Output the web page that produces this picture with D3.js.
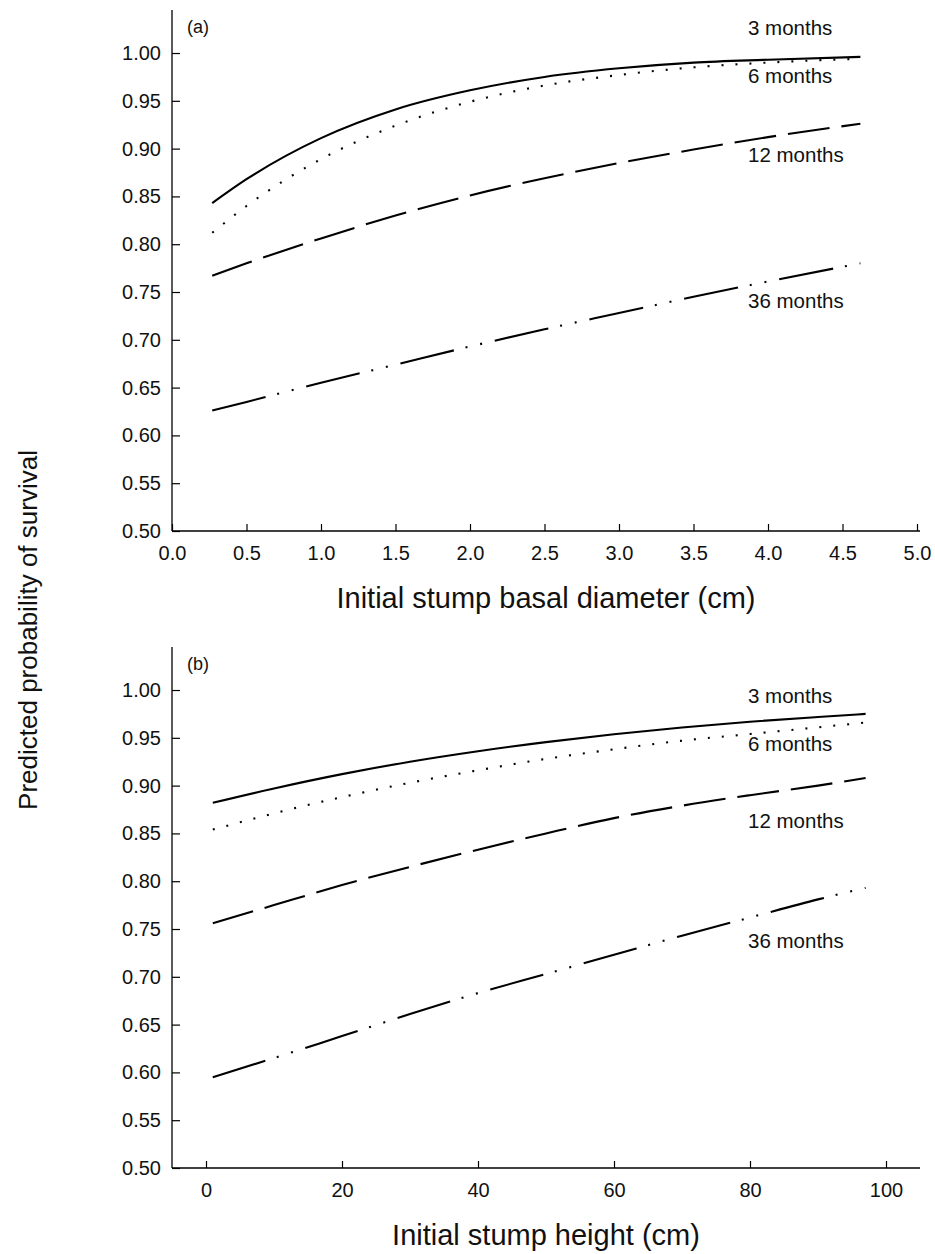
<!DOCTYPE html>
<html>
<head>
<meta charset="utf-8">
<script src="https://cdn.jsdelivr.net/npm/d3@7"></script>
<style>
  body { margin: 0; background: #fff; }
  svg { font-family: "Liberation Sans", Arial, sans-serif; }
</style>
</head>
<body>
<div id="chart"></div>
<script>
// panel (a): basal diameter
var diamX   = [0.27, 0.5, 1.0, 1.5, 2.0, 2.5, 3.0, 3.5, 4.0, 4.62];
var diam3   = [0.843, 0.868, 0.911, 0.941, 0.961, 0.975, 0.984, 0.990, 0.993, 0.996];
var diam6   = [0.812, 0.840, 0.889, 0.924, 0.949, 0.966, 0.977, 0.985, 0.990, 0.994];
var diam12  = [0.767, 0.780, 0.806, 0.830, 0.851, 0.869, 0.885, 0.899, 0.912, 0.926];
var diam36  = [0.626, 0.635, 0.655, 0.674, 0.693, 0.711, 0.728, 0.745, 0.761, 0.780];

// panel (b): stump height
var heightX  = [1, 10, 20, 30, 40, 50, 60, 70, 80, 90, 97];
var height3  = [0.882, 0.897, 0.912, 0.925, 0.936, 0.9455, 0.9537, 0.9608, 0.9668, 0.9718, 0.975];
var height6  = [0.854, 0.871, 0.888, 0.903, 0.916, 0.928, 0.938, 0.947, 0.954, 0.961, 0.966];
var height12 = [0.756, 0.775, 0.796, 0.815, 0.833, 0.850, 0.866, 0.879, 0.890, 0.900, 0.908];
var height36 = [0.595, 0.615, 0.638, 0.661, 0.683, 0.703, 0.723, 0.743, 0.762, 0.781, 0.793];

var seriesNames = ['3 months', '6 months', '12 months', '36 months'];
var yTicks = [0.50, 0.55, 0.60, 0.65, 0.70, 0.75, 0.80, 0.85, 0.90, 0.95, 1.00];
var xTicksA = [0, 0.5, 1, 1.5, 2, 2.5, 3, 3.5, 4, 4.5, 5];
var xTicksB = [0, 20, 40, 60, 80, 100];

var chart_width = 935;
var chart_height = 1254;
var left = 172, right = 920;

var dashes = [null, '2,12', '42,12', '55,12,2,13,2,13'];

var svg = d3.select('#chart')
    .append('svg')
    .attr('width', chart_width)
    .attr('height', chart_height);

function panel(opts) {
    var g = svg.append('g');

    var x_scale = d3.scaleLinear().domain(opts.xDomain).range(opts.xRange);
    var y_scale = d3.scaleLinear().domain([0.5, 1.045]).range([opts.bottom, opts.top]);

    // y axis
    var yAxis = g.append('g')
        .attr('transform', 'translate(' + left + ',0)')
        .call(d3.axisLeft(y_scale).tickValues(yTicks).tickFormat(d3.format('.2f'))
            .tickSizeInner(-8).tickSizeOuter(0).tickPadding(11));
    // x axis
    var xAxis = g.append('g')
        .attr('transform', 'translate(0,' + opts.bottom + ')')
        .call(d3.axisBottom(x_scale).tickValues(opts.xTicks).tickFormat(opts.xFormat)
            .tickSizeInner(-7).tickSizeOuter(0).tickPadding(15));

    [yAxis, xAxis].forEach(function (a) {
        a.select('.domain').remove();
        a.selectAll('line').attr('stroke', '#000').attr('stroke-width', 1.2);
        a.selectAll('text').attr('font-size', 20).attr('fill', '#111')
            .attr('font-family', '"Liberation Sans", Arial, sans-serif');
    });

    g.append('line')
        .attr('x1', left).attr('x2', left)
        .attr('y1', opts.top).attr('y2', opts.bottom)
        .attr('stroke', '#000').attr('stroke-width', 1.3);
    g.append('line')
        .attr('x1', left).attr('x2', right)
        .attr('y1', opts.bottom).attr('y2', opts.bottom)
        .attr('stroke', '#000').attr('stroke-width', 1.3);

    var line = d3.line()
        .x(function (d) { return x_scale(d[0]); })
        .y(function (d) { return y_scale(d[1]); })
        .curve(d3.curveMonotoneX);

    opts.series.forEach(function (vals, i) {
        var pts = opts.xs.map(function (x, j) { return [x, vals[j]]; });
        g.append('path')
            .attr('d', line(pts))
            .attr('fill', 'none')
            .attr('stroke', '#000')
            .attr('stroke-width', 2.1)
            .attr('stroke-dasharray', dashes[i]);
    });

    // series labels
    seriesNames.forEach(function (name, i) {
        g.append('text')
            .attr('x', 748)
            .attr('y', opts.labelY[i])
            .attr('font-size', 20.5)
            .attr('fill', '#111')
            .text(name);
    });

    g.append('text')
        .attr('x', 187)
        .attr('y', opts.top + 23)
        .attr('font-size', 18)
        .attr('fill', '#111')
        .text(opts.tag);

    g.append('text')
        .attr('x', 546)
        .attr('y', opts.bottom + 77)
        .attr('text-anchor', 'middle')
        .attr('font-size', 29)
        .attr('fill', '#111')
        .text(opts.title);
}

panel({
    top: 10, bottom: 531,
    xDomain: [0, 5], xRange: [172, 917],
    xTicks: xTicksA, xFormat: d3.format('.1f'),
    xs: diamX, series: [diam3, diam6, diam12, diam36],
    labelY: [35, 83, 162, 308],
    tag: '(a)',
    title: 'Initial stump basal diameter (cm)'
});

panel({
    top: 647, bottom: 1168,
    xDomain: [-5, 105], xRange: [172, 920],
    xTicks: xTicksB, xFormat: d3.format('d'),
    xs: heightX, series: [height3, height6, height12, height36],
    labelY: [703, 751, 828, 948],
    tag: '(b)',
    title: 'Initial stump height (cm)'
});

// shared y title
svg.append('text')
    .attr('transform', 'translate(37,630) rotate(-90)')
    .attr('text-anchor', 'middle')
    .attr('font-size', 26)
    .attr('fill', '#111')
    .text('Predicted probability of survival');
</script>
</body>
</html>
